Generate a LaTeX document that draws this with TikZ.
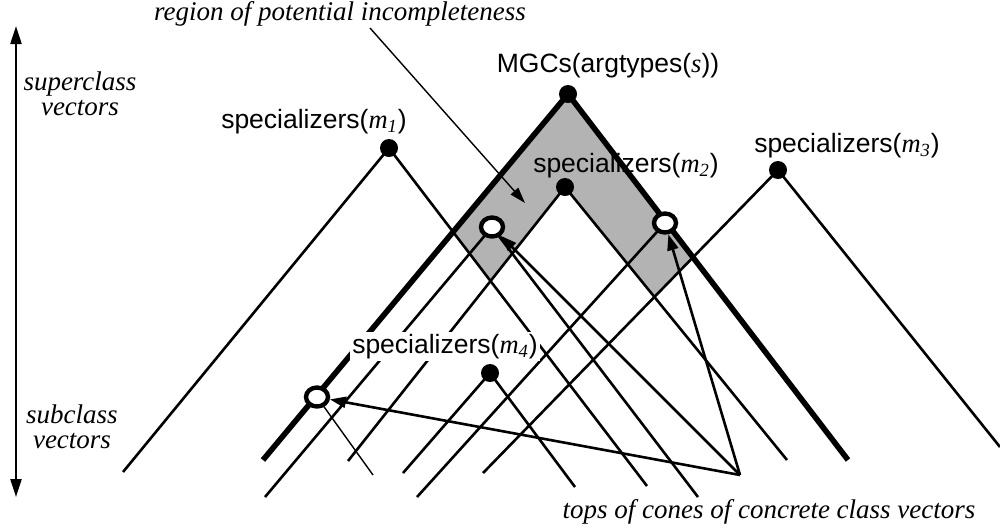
\documentclass[tikz,border=0pt]{standalone}
\usepackage{fontspec}
\setmainfont{Liberation Sans}
\newfontfamily\timesfont{Liberation Serif}
\usetikzlibrary{arrows.meta, calc, positioning, shapes.geometric}
\definecolor{regiongray}{RGB}{179,179,179}
\newcommand{\vrb}[1]{{\timesfont\itshape #1}}
\newcommand{\spec}[1]{specializers(\vrb{m}\textsubscript{\vrb{#1}})}

\begin{document}
\begin{tikzpicture}[x=0.5pt, y=-0.5pt,
    cone/.style={line width=1.3pt},
    bigcone/.style={line width=2.8pt},
    thincone/.style={line width=0.7pt},
    topdot/.style={circle, fill=black, inner sep=0pt, minimum size=9pt},
    concrete/.style={ellipse, draw, fill=white, line width=2.2pt, inner sep=0pt, minimum width=11pt, minimum height=9.5pt},
    pointer/.style={line width=1.3pt, -{Triangle[length=8pt, width=5.5pt]}},
    thinpointer/.style={line width=0.7pt, -{Triangle[length=8pt, width=5pt]}},
    vecaxis/.style={line width=1.1pt, {Triangle[length=9pt, width=5.5pt]}-{Triangle[length=9pt, width=5.5pt]}},
    lbl/.style={font=\fontsize{13.25}{16}\selectfont, inner sep=0pt, anchor=base},
    note/.style={font=\fontsize{13.5}{12.5}\selectfont\timesfont\itshape, inner sep=0pt, align=center},
  ]
    \useasboundingbox (0,0) rectangle (1000,531);

    % Tops of the cones
    \coordinate (mgc) at (568,94);
    \coordinate (m1) at (389,148);
    \coordinate (m2) at (565,187);
    \coordinate (m3) at (778,170);
    \coordinate (m4) at (490,373);
    \coordinate (c1) at (492,227);
    \coordinate (c2) at (665,223);
    \coordinate (c3) at (317,397);

    % Lower ends of the cone sides
    \coordinate (mgcL) at (263,460);
    \coordinate (mgcR) at (848,460);
    \coordinate (m1L) at (123,472);
    \coordinate (m1R) at (647,486);
    \coordinate (m2L) at (348,461);
    \coordinate (m2R) at (787,460);
    \coordinate (m3L) at (483,473);
    \coordinate (m3R) at (1000,447);
    \coordinate (m4L) at (403,473);
    \coordinate (m4R) at (575,487);
    \coordinate (c1L) at (265,497);
    \coordinate (c1R) at (698,497);
    \coordinate (c2L) at (417,497);
    \coordinate (c3R) at (373,475);

    % Region of potential incompleteness
    \fill[regiongray] (mgc)
        -- (intersection of mgc--mgcL and m1--m1R)
        -- (intersection of m1--m1R and m2--m2L)
        -- (m2)
        -- (intersection of m2--m2R and m3--m3L)
        -- (intersection of m3--m3L and mgc--mgcR)
        -- cycle;

    % Cones
    \draw[bigcone] (mgcL) -- (mgc) -- (mgcR);
    \draw[cone] (m1L) -- (m1) -- (m1R);
    \draw[cone] (m2L) -- (m2) -- (m2R);
    \draw[cone] (m3L) -- (m3) -- (m3R);
    \draw[cone] (m4L) -- (m4) -- (m4R);
    \draw[cone] (c1L) -- (c1) -- (c1R);
    \draw[cone] (c2L) -- (c2);
    \draw[thincone] (c3) -- (c3R);

    % Dots
    \node[topdot] (mgcDot) at (mgc) {};
    \node[topdot] (m1Dot) at (m1) {};
    \node[topdot] (m2Dot) at (m2) {};
    \node[topdot] (m3Dot) at (m3) {};
    \node[topdot] (m4Dot) at (m4) {};
    \node[concrete] (c1Ring) at (c1) {};
    \node[concrete] (c2Ring) at (c2) {};
    \node[concrete] (c3Ring) at (c3) {};

    % Pointers to the concrete tops
    \coordinate (tops) at (740,475);
    \draw[pointer] (tops) -- (c3Ring);
    \draw[pointer] (tops) -- (c1Ring);
    \draw[pointer] (tops) -- (c2Ring);

    \coordinate (regionTail) at (370,28);
    \coordinate (regionTip) at (525,203);
    \draw[thinpointer] (regionTail) -- (regionTip);

    % Vertical axis
    \coordinate (superEnd) at (16,26);
    \coordinate (subEnd) at (16,497);
    \draw[vecaxis] (subEnd) -- (superEnd);

    % Labels
    \node[lbl] (mgcLabel) at (608,72) {MGCs(argtypes(\vrb{s}))};
    \node[lbl] (m1Label) at (314,128) {\spec{1}};
    \node[lbl] (m2Label) at (626,172) {\spec{2}};
    \node[lbl] (m3Label) at (847,152) {\spec{3}};
    \node[lbl, fill=white, inner sep=1pt] (m4Label) at (445,353) {\spec{4}};
    \node[note, anchor=base] (regionLabel) at (340,20) {region of potential incompleteness};
    \node[note, anchor=base] (topsLabel) at (769,518) {tops of cones of concrete class vectors};
    \node[note] (superLabel) at (80,94) {superclass\\vectors};
    \node[note] (subLabel) at (72,427) {subclass\\vectors};
\end{tikzpicture}
\end{document}
